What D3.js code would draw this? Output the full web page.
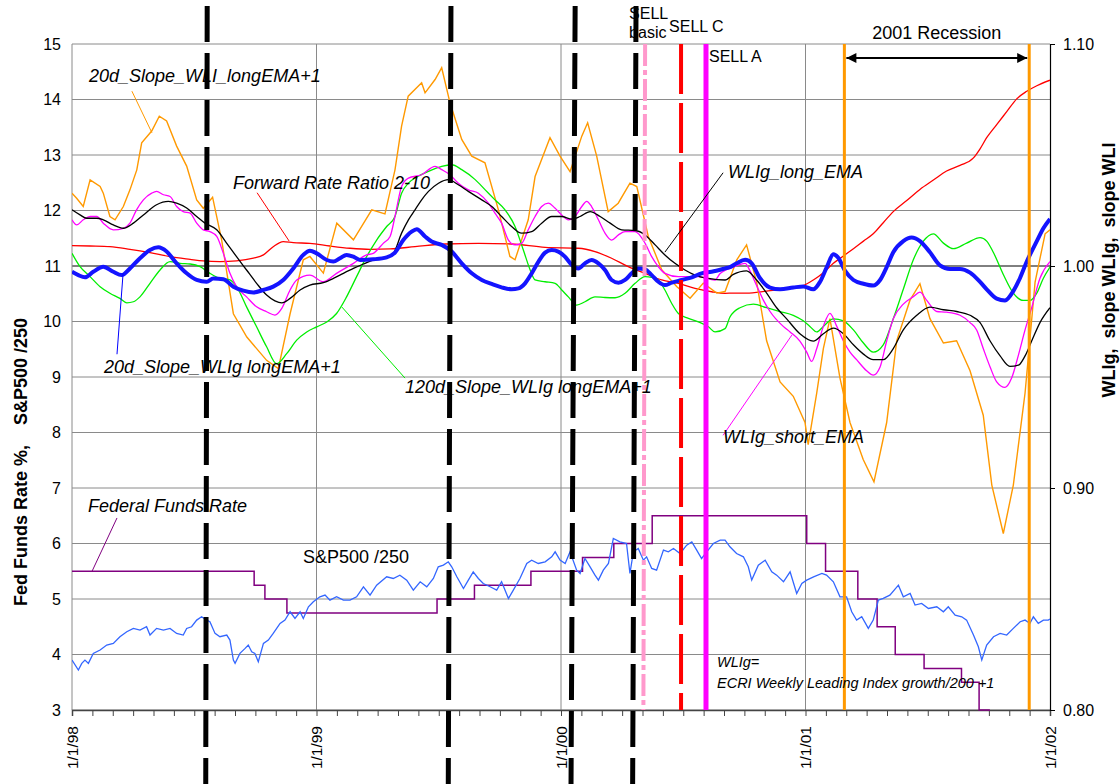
<!DOCTYPE html>
<html><head><meta charset="utf-8">
<script src="https://cdn.jsdelivr.net/npm/d3@7"></script>
<style>
html,body{margin:0;padding:0;background:#fff;}
svg{display:block;font-family:"Liberation Sans",Arial,sans-serif;}
</style></head><body>
<svg id="c" width="1120" height="784"></svg>
<script>
// ---------- DATA (x = decimal year) ----------
const yearLabels = ["1/1/98","1/1/99","1/1/00","1/1/01","1/1/02"];
const leftTicks = [3,4,5,6,7,8,9,10,11,12,13,14,15];
const rightTicks = [0.80,0.90,1.00,1.10];

// 20d_Slope_WLI_longEMA+1 (right axis)
const slopeWLI = [[1998.000,1.0328],[1998.019,1.0305],[1998.046,1.0268],[1998.074,1.0388],[1998.115,1.0358],[1998.128,1.0328],[1998.155,1.0223],[1998.176,1.0208],[1998.210,1.0268],[1998.237,1.0343],[1998.265,1.0433],[1998.285,1.0555],[1998.326,1.0608],[1998.357,1.0675],[1998.387,1.0653],[1998.428,1.0540],[1998.469,1.0450],[1998.510,1.0298],[1998.537,1.0260],[1998.575,1.0310],[1998.612,1.0118],[1998.660,0.9785],[1998.715,0.9680],[1998.796,0.9575],[1998.844,0.9538],[1998.892,0.9785],[1998.946,1.0028],[1998.973,1.0043],[1999.028,0.9968],[1999.083,1.0193],[1999.151,1.0118],[1999.226,1.0253],[1999.280,1.0235],[1999.321,1.0433],[1999.348,1.0630],[1999.375,1.0765],[1999.430,1.0825],[1999.444,1.0780],[1999.485,1.0840],[1999.512,1.0893],[1999.546,1.0735],[1999.594,1.0570],[1999.635,1.0495],[1999.689,1.0465],[1999.744,1.0253],[1999.791,1.0043],[1999.812,1.0028],[1999.866,1.0208],[1999.894,1.0403],[1999.955,1.0578],[1999.996,1.0495],[2000.037,1.0425],[2000.085,1.0585],[2000.109,1.0645],[2000.146,1.0495],[2000.193,1.0245],[2000.234,1.0283],[2000.282,1.0373],[2000.310,1.0358],[2000.357,1.0133],[2000.412,0.9983],[2000.473,0.9908],[2000.528,0.9855],[2000.582,0.9923],[2000.637,0.9878],[2000.671,0.9885],[2000.719,1.0028],[2000.759,1.0095],[2000.800,0.9928],[2000.841,0.9663],[2000.896,0.9478],[2000.950,0.9413],[2000.998,0.9295],[2001.011,0.9195],[2001.046,0.9428],[2001.073,0.9628],[2001.100,0.9763],[2001.141,0.9495],[2001.182,0.9295],[2001.236,0.9128],[2001.280,0.9028],[2001.332,0.9295],[2001.373,0.9663],[2001.427,0.9845],[2001.468,0.9920],[2001.509,0.9763],[2001.564,0.9653],[2001.618,0.9663],[2001.673,0.9528],[2001.727,0.9328],[2001.762,0.9013],[2001.809,0.8795],[2001.850,0.9013],[2001.898,0.9428],[2001.939,0.9928],[2001.980,1.0145],[2002.000,1.0163]];

// WLIg_short_EMA
const shortEMA = [[1998.000,1.0208],[1998.019,1.0185],[1998.046,1.0208],[1998.074,1.0223],[1998.101,1.0223],[1998.128,1.0193],[1998.169,1.0163],[1998.210,1.0170],[1998.237,1.0193],[1998.264,1.0253],[1998.292,1.0298],[1998.326,1.0328],[1998.346,1.0336],[1998.374,1.0321],[1998.401,1.0313],[1998.428,1.0268],[1998.455,1.0245],[1998.483,1.0238],[1998.510,1.0193],[1998.537,1.0163],[1998.564,1.0155],[1998.592,1.0133],[1998.619,1.0057],[1998.646,0.9967],[1998.673,0.9907],[1998.714,0.9861],[1998.755,0.9816],[1998.796,0.9794],[1998.830,0.9779],[1998.858,0.9809],[1998.892,0.9892],[1998.919,0.9937],[1998.973,0.9959],[1999.028,0.9929],[1999.082,0.9967],[1999.151,1.0012],[1999.205,1.0050],[1999.232,1.0057],[1999.273,1.0102],[1999.301,1.0133],[1999.321,1.0223],[1999.348,1.0358],[1999.376,1.0396],[1999.430,1.0411],[1999.485,1.0449],[1999.512,1.0434],[1999.546,1.0411],[1999.580,1.0373],[1999.621,1.0343],[1999.662,1.0328],[1999.703,1.0283],[1999.730,1.0238],[1999.757,1.0193],[1999.785,1.0117],[1999.812,1.0095],[1999.839,1.0102],[1999.866,1.0163],[1999.894,1.0223],[1999.921,1.0268],[1999.948,1.0283],[1999.975,1.0261],[2000.003,1.0230],[2000.030,1.0208],[2000.057,1.0223],[2000.085,1.0268],[2000.105,1.0291],[2000.125,1.0268],[2000.153,1.0208],[2000.180,1.0148],[2000.207,1.0117],[2000.235,1.0140],[2000.262,1.0155],[2000.303,1.0155],[2000.344,1.0102],[2000.371,1.0042],[2000.398,0.9997],[2000.425,0.9967],[2000.480,0.9952],[2000.562,0.9952],[2000.630,0.9937],[2000.650,0.9965],[2000.705,0.9995],[2000.753,1.0012],[2000.773,0.9978],[2000.800,0.9912],[2000.828,0.9845],[2000.855,0.9795],[2000.909,0.9728],[2000.937,0.9703],[2000.977,0.9662],[2001.005,0.9612],[2001.025,0.9570],[2001.046,0.9628],[2001.073,0.9728],[2001.100,0.9787],[2001.128,0.9728],[2001.155,0.9662],[2001.182,0.9612],[2001.209,0.9578],[2001.250,0.9528],[2001.277,0.9508],[2001.305,0.9545],[2001.332,0.9662],[2001.359,0.9762],[2001.400,0.9828],[2001.441,0.9862],[2001.468,0.9882],[2001.496,0.9845],[2001.537,0.9795],[2001.577,0.9792],[2001.632,0.9778],[2001.673,0.9745],[2001.700,0.9712],[2001.727,0.9628],[2001.755,0.9545],[2001.782,0.9478],[2001.816,0.9453],[2001.843,0.9495],[2001.870,0.9595],[2001.898,0.9712],[2001.925,0.9812],[2001.959,0.9945],[2002.000,1.0020]];

// WLIg_long_EMA
const longEMA = [[1998.000,1.0253],[1998.033,1.0230],[1998.060,1.0215],[1998.101,1.0215],[1998.128,1.0208],[1998.169,1.0185],[1998.210,1.0170],[1998.251,1.0193],[1998.292,1.0230],[1998.346,1.0276],[1998.394,1.0291],[1998.428,1.0283],[1998.469,1.0261],[1998.510,1.0223],[1998.544,1.0193],[1998.592,1.0163],[1998.633,1.0102],[1998.673,1.0042],[1998.714,0.9982],[1998.755,0.9922],[1998.796,0.9869],[1998.830,0.9843],[1998.858,0.9834],[1998.892,0.9854],[1998.933,0.9892],[1998.973,0.9914],[1999.028,0.9925],[1999.069,0.9944],[1999.110,0.9967],[1999.151,0.9989],[1999.192,1.0009],[1999.232,1.0027],[1999.273,1.0035],[1999.314,1.0057],[1999.348,1.0148],[1999.376,1.0208],[1999.403,1.0253],[1999.430,1.0298],[1999.458,1.0336],[1999.499,1.0373],[1999.540,1.0389],[1999.580,1.0366],[1999.621,1.0336],[1999.676,1.0298],[1999.717,1.0268],[1999.757,1.0223],[1999.798,1.0178],[1999.839,1.0148],[1999.880,1.0155],[1999.921,1.0193],[1999.962,1.0223],[2000.003,1.0223],[2000.044,1.0211],[2000.078,1.0223],[2000.119,1.0245],[2000.160,1.0223],[2000.201,1.0193],[2000.248,1.0163],[2000.303,1.0160],[2000.344,1.0140],[2000.385,1.0095],[2000.425,1.0050],[2000.466,1.0012],[2000.507,0.9982],[2000.548,0.9959],[2000.603,0.9944],[2000.671,0.9937],[2000.705,0.9962],[2000.759,0.9978],[2000.800,0.9937],[2000.841,0.9878],[2000.882,0.9812],[2000.923,0.9762],[2000.977,0.9695],[2001.032,0.9662],[2001.073,0.9695],[2001.114,0.9720],[2001.155,0.9695],[2001.196,0.9645],[2001.237,0.9603],[2001.277,0.9578],[2001.318,0.9578],[2001.359,0.9628],[2001.400,0.9712],[2001.455,0.9778],[2001.509,0.9815],[2001.564,0.9803],[2001.618,0.9795],[2001.673,0.9778],[2001.714,0.9745],[2001.755,0.9662],[2001.796,0.9595],[2001.836,0.9548],[2001.871,0.9553],[2001.898,0.9595],[2001.925,0.9662],[2001.959,0.9745],[2002.000,0.9812]];

// 120d_Slope_WLIg longEMA+1
const slope120 = [[1998.000,1.0057],[1998.033,0.9997],[1998.074,0.9952],[1998.115,0.9907],[1998.155,0.9877],[1998.196,0.9854],[1998.224,0.9834],[1998.251,0.9839],[1998.278,0.9861],[1998.319,0.9922],[1998.360,0.9982],[1998.401,1.0020],[1998.442,1.0012],[1998.483,1.0009],[1998.524,0.9997],[1998.564,0.9967],[1998.605,0.9944],[1998.646,0.9937],[1998.673,0.9907],[1998.714,0.9816],[1998.755,0.9726],[1998.796,0.9636],[1998.837,0.9560],[1998.878,0.9605],[1998.919,0.9666],[1998.960,0.9703],[1999.001,0.9726],[1999.042,0.9748],[1999.082,0.9786],[1999.123,0.9861],[1999.164,0.9952],[1999.205,1.0042],[1999.246,1.0117],[1999.287,1.0178],[1999.321,1.0223],[1999.348,1.0328],[1999.376,1.0373],[1999.416,1.0404],[1999.458,1.0426],[1999.512,1.0449],[1999.553,1.0456],[1999.594,1.0434],[1999.649,1.0389],[1999.690,1.0343],[1999.730,1.0298],[1999.771,1.0253],[1999.812,1.0178],[1999.846,1.0072],[1999.874,0.9982],[1999.894,0.9937],[1999.935,0.9929],[1999.976,0.9922],[2000.003,0.9892],[2000.030,0.9861],[2000.064,0.9824],[2000.098,0.9839],[2000.139,0.9861],[2000.180,0.9858],[2000.221,0.9857],[2000.262,0.9877],[2000.303,0.9922],[2000.344,0.9952],[2000.371,0.9949],[2000.398,0.9937],[2000.425,0.9892],[2000.453,0.9831],[2000.480,0.9786],[2000.521,0.9764],[2000.562,0.9748],[2000.603,0.9726],[2000.630,0.9703],[2000.671,0.9718],[2000.691,0.9770],[2000.732,0.9812],[2000.787,0.9828],[2000.841,0.9812],[2000.896,0.9795],[2000.950,0.9778],[2000.991,0.9753],[2001.018,0.9728],[2001.046,0.9703],[2001.073,0.9728],[2001.114,0.9762],[2001.155,0.9753],[2001.196,0.9712],[2001.237,0.9653],[2001.277,0.9612],[2001.318,0.9645],[2001.359,0.9762],[2001.400,0.9895],[2001.441,1.0028],[2001.482,1.0112],[2001.523,1.0145],[2001.564,1.0103],[2001.605,1.0078],[2001.659,1.0103],[2001.714,1.0128],[2001.741,1.0112],[2001.768,1.0062],[2001.809,0.9962],[2001.850,0.9878],[2001.891,0.9845],[2001.918,0.9845],[2001.946,0.9878],[2001.973,0.9945],[2002.000,0.9995]];

// 20d_Slope_WLIg longEMA+1
const slope20g = [[1998.000,0.9974],[1998.026,0.9959],[1998.053,0.9949],[1998.087,0.9974],[1998.128,0.9997],[1998.169,0.9974],[1998.203,0.9959],[1998.237,0.9989],[1998.278,1.0035],[1998.319,1.0072],[1998.353,1.0084],[1998.387,1.0065],[1998.428,1.0012],[1998.469,0.9967],[1998.510,0.9937],[1998.551,0.9929],[1998.578,0.9944],[1998.619,0.9940],[1998.660,0.9907],[1998.701,0.9889],[1998.742,0.9881],[1998.783,0.9892],[1998.823,0.9907],[1998.864,0.9937],[1998.905,0.9989],[1998.946,1.0050],[1998.973,1.0069],[1999.001,1.0057],[1999.042,1.0027],[1999.069,1.0020],[1999.096,1.0035],[1999.123,1.0050],[1999.151,1.0042],[1999.178,1.0027],[1999.232,1.0030],[1999.287,1.0039],[1999.321,1.0060],[1999.355,1.0117],[1999.389,1.0155],[1999.410,1.0166],[1999.444,1.0133],[1999.471,1.0110],[1999.512,1.0095],[1999.553,1.0065],[1999.594,1.0012],[1999.635,0.9967],[1999.676,0.9937],[1999.717,0.9919],[1999.757,0.9904],[1999.798,0.9895],[1999.826,0.9899],[1999.853,0.9922],[1999.880,0.9967],[1999.908,1.0020],[1999.935,1.0060],[1999.962,1.0072],[1999.989,1.0065],[2000.016,1.0042],[2000.044,1.0005],[2000.071,0.9989],[2000.098,1.0012],[2000.125,1.0027],[2000.153,1.0012],[2000.180,0.9982],[2000.207,0.9937],[2000.235,0.9925],[2000.262,0.9937],[2000.289,0.9967],[2000.316,0.9989],[2000.344,0.9985],[2000.371,0.9959],[2000.398,0.9929],[2000.425,0.9914],[2000.453,0.9925],[2000.494,0.9937],[2000.535,0.9949],[2000.575,0.9967],[2000.616,0.9974],[2000.671,0.9989],[2000.691,0.9995],[2000.718,1.0012],[2000.753,1.0028],[2000.780,1.0012],[2000.814,0.9945],[2000.855,0.9903],[2000.896,0.9895],[2000.950,0.9903],[2000.991,0.9908],[2001.032,0.9895],[2001.059,0.9928],[2001.087,0.9995],[2001.114,1.0053],[2001.134,1.0037],[2001.162,0.9978],[2001.196,0.9937],[2001.237,0.9920],[2001.277,0.9912],[2001.305,0.9937],[2001.332,0.9995],[2001.359,1.0062],[2001.400,1.0112],[2001.434,1.0128],[2001.468,1.0112],[2001.509,1.0062],[2001.550,1.0003],[2001.591,0.9987],[2001.632,0.9987],[2001.673,0.9970],[2001.714,0.9928],[2001.741,0.9895],[2001.782,0.9853],[2001.816,0.9845],[2001.850,0.9887],[2001.877,0.9945],[2001.905,1.0020],[2001.946,1.0112],[2001.973,1.0170],[2002.000,1.0212]];

// Forward Rate Ratio 2-10
const fwdRatio = [[1998.000,1.0092],[1998.074,1.0090],[1998.155,1.0087],[1998.237,1.0075],[1998.319,1.0060],[1998.401,1.0042],[1998.483,1.0030],[1998.537,1.0023],[1998.605,1.0020],[1998.673,1.0023],[1998.742,1.0035],[1998.783,1.0050],[1998.823,1.0087],[1998.864,1.0110],[1998.905,1.0105],[1998.973,1.0102],[1999.055,1.0090],[1999.137,1.0080],[1999.219,1.0075],[1999.301,1.0077],[1999.403,1.0087],[1999.526,1.0099],[1999.662,1.0102],[1999.798,1.0099],[1999.935,1.0084],[2000.071,1.0080],[2000.139,1.0065],[2000.207,1.0035],[2000.275,0.9997],[2000.344,0.9967],[2000.412,0.9937],[2000.480,0.9922],[2000.548,0.9899],[2000.616,0.9884],[2000.671,0.9877],[2000.705,0.9878],[2000.759,0.9878],[2000.841,0.9887],[2000.923,0.9898],[2000.991,0.9912],[2001.032,0.9937],[2001.073,0.9970],[2001.114,1.0012],[2001.155,1.0045],[2001.196,1.0078],[2001.237,1.0112],[2001.277,1.0145],[2001.318,1.0195],[2001.359,1.0245],[2001.414,1.0295],[2001.468,1.0345],[2001.523,1.0387],[2001.577,1.0428],[2001.632,1.0453],[2001.687,1.0487],[2001.714,1.0528],[2001.741,1.0578],[2001.782,1.0637],[2001.823,1.0695],[2001.864,1.0753],[2001.905,1.0787],[2001.946,1.0812],[2002.000,1.0837]];

// S&P500 /250 (left axis)
const spx = [[1998.000,3.90],[1998.026,3.72],[1998.040,3.84],[1998.053,3.90],[1998.067,3.84],[1998.087,4.02],[1998.115,4.08],[1998.142,4.17],[1998.169,4.20],[1998.196,4.32],[1998.224,4.41],[1998.251,4.47],[1998.278,4.44],[1998.305,4.50],[1998.319,4.35],[1998.346,4.47],[1998.374,4.44],[1998.401,4.47],[1998.428,4.38],[1998.455,4.35],[1998.469,4.47],[1998.489,4.50],[1998.510,4.62],[1998.530,4.68],[1998.551,4.62],[1998.564,4.59],[1998.585,4.38],[1998.605,4.32],[1998.633,4.35],[1998.646,4.26],[1998.660,3.90],[1998.667,3.84],[1998.687,4.02],[1998.708,4.11],[1998.721,4.17],[1998.735,4.05],[1998.748,4.02],[1998.762,3.87],[1998.783,4.20],[1998.803,4.26],[1998.823,4.38],[1998.851,4.56],[1998.871,4.62],[1998.892,4.77],[1998.912,4.65],[1998.933,4.77],[1998.946,4.65],[1998.967,4.86],[1998.987,4.95],[1999.014,5.04],[1999.035,5.07],[1999.055,4.98],[1999.082,5.04],[1999.110,4.98],[1999.137,4.98],[1999.164,5.04],[1999.192,5.22],[1999.219,5.07],[1999.246,5.25],[1999.287,5.40],[1999.314,5.37],[1999.341,5.43],[1999.369,5.34],[1999.396,5.16],[1999.424,5.31],[1999.451,5.22],[1999.478,5.37],[1999.498,5.58],[1999.519,5.61],[1999.539,5.67],[1999.553,5.58],[1999.574,5.40],[1999.601,5.19],[1999.621,5.34],[1999.641,5.49],[1999.662,5.37],[1999.682,5.28],[1999.710,5.22],[1999.737,5.16],[1999.757,5.31],[1999.785,5.01],[1999.805,5.16],[1999.832,5.37],[1999.860,5.64],[1999.880,5.70],[1999.907,5.64],[1999.935,5.67],[1999.962,5.76],[1999.976,5.85],[1999.996,5.70],[2000.017,5.64],[2000.037,5.85],[2000.064,5.52],[2000.078,5.46],[2000.098,5.73],[2000.119,5.58],[2000.139,5.43],[2000.153,5.34],[2000.173,5.52],[2000.194,5.64],[2000.214,6.09],[2000.241,6.03],[2000.268,6.00],[2000.282,5.46],[2000.296,5.85],[2000.316,5.91],[2000.337,5.70],[2000.350,5.76],[2000.371,5.55],[2000.391,5.52],[2000.419,5.88],[2000.439,5.85],[2000.460,5.91],[2000.487,5.82],[2000.514,5.97],[2000.535,6.03],[2000.555,5.88],[2000.575,5.73],[2000.596,5.85],[2000.623,6.00],[2000.651,6.06],[2000.671,6.06],[2000.691,5.94],[2000.718,5.82],[2000.746,5.76],[2000.766,5.58],[2000.780,5.34],[2000.807,5.61],[2000.835,5.70],[2000.862,5.49],[2000.882,5.43],[2000.910,5.31],[2000.937,5.49],[2000.964,5.10],[2000.985,5.28],[2001.005,5.34],[2001.033,5.40],[2001.067,5.46],[2001.086,5.43],[2001.114,5.31],[2001.141,5.04],[2001.168,5.04],[2001.189,4.77],[2001.209,4.62],[2001.230,4.68],[2001.257,4.47],[2001.277,4.62],[2001.298,4.98],[2001.318,5.01],[2001.345,5.07],[2001.380,5.25],[2001.400,5.04],[2001.428,5.10],[2001.448,4.89],[2001.475,4.92],[2001.503,4.83],[2001.537,4.86],[2001.564,4.77],[2001.584,4.86],[2001.612,4.71],[2001.639,4.68],[2001.659,4.62],[2001.687,4.35],[2001.707,4.14],[2001.721,3.90],[2001.741,4.17],[2001.769,4.32],[2001.796,4.38],[2001.823,4.35],[2001.850,4.47],[2001.878,4.59],[2001.898,4.62],[2001.918,4.56],[2001.932,4.68],[2001.952,4.56],[2001.973,4.62],[2001.993,4.62],[2002.000,4.64]];

// Federal Funds Rate (left axis), step changes
const fedFunds = [[1998.000,5.5],[1998.745,5.25],[1998.789,5.0],[1998.879,4.75],[1999.493,5.0],[1999.646,5.25],[1999.877,5.5],[2000.088,5.75],[2000.216,6.0],[2000.373,6.5],[2001.005,6.0],[2001.082,5.5],[2001.214,5.0],[2001.293,4.5],[2001.367,4.0],[2001.485,3.75],[2001.638,3.5],[2001.710,3.0],[2001.751,2.5],[2001.849,2.0],[2001.945,1.75],[2002.000,1.75]];

// Event markers (decimal years): [top, bottom]
const blackDashDates = [[1998.553,1998.547],[1999.550,1999.539],[2000.058,2000.041],[2000.307,2000.293]];
const sellBasicDate = [2000.344,2000.337];
const sellCDate = 2000.491;
const sellADate = 2000.593;
const recessionDates = [2001.159,2001.915];

// ---------- CHART ----------
const svg = d3.select("#c");
const L=72,R=1050,T=44,B=710;
const x = d3.scaleLinear().domain([1998,2002]).range([L,R]);
const yL = d3.scaleLinear().domain([3,15]).range([B,T]);
const yR = d3.scaleLinear().domain([0.8,1.1]).range([B,T]);

svg.append("defs").append("clipPath").attr("id","plot")
  .append("rect").attr("x",L).attr("y",T-1).attr("width",R-L).attr("height",B-T+2);

// grid
const grid = svg.append("g");
grid.selectAll("line.h").data(leftTicks).join("line")
  .attr("x1",L).attr("x2",R).attr("y1",d=>yL(d)).attr("y2",d=>yL(d))
  .attr("stroke",d=>d===11?"#000":"#8a8a8a").attr("stroke-width",1);
grid.selectAll("line.v").data([1998,1999,2000,2001]).join("line")
  .attr("x1",d=>x(d)).attr("x2",d=>x(d)).attr("y1",T).attr("y2",B)
  .attr("stroke","#8a8a8a").attr("stroke-width",1);

// bottom axis (monthly ticks)
const monthTicks = d3.range(0,49).map(i=>1998+i/12);
const xAxis = svg.append("g").attr("transform",`translate(0,${B})`)
  .call(d3.axisBottom(x).tickValues(monthTicks).tickSize(6).tickFormat(""));
xAxis.select(".domain").attr("stroke","#444").attr("stroke-width",1.5);
xAxis.selectAll(".tick line").attr("stroke","#444");
svg.append("g").selectAll("text").data(yearLabels).join("text")
  .attr("transform",(d,i)=>`translate(${x(1998+i)+5.5},726) rotate(-90)`)
  .attr("text-anchor","end").attr("font-size",15.5).text(d=>d);

// left axis
const yAxisL = svg.append("g").attr("transform",`translate(${L},0)`)
  .call(d3.axisLeft(yL).tickValues(leftTicks).tickSize(0).tickPadding(11).tickFormat(d3.format("d")));
yAxisL.select(".domain").remove();
yAxisL.selectAll("text").attr("font-size",16).attr("font-family","Liberation Sans, Arial");

// right axis
const yAxisR = svg.append("g").attr("transform",`translate(${R},0)`)
  .call(d3.axisRight(yR).tickValues(rightTicks).tickSize(5).tickPadding(8).tickFormat(d3.format(".2f")));
yAxisR.select(".domain").attr("stroke","#000").attr("stroke-width",1.2);
yAxisR.selectAll("text").attr("font-size",16).attr("font-family","Liberation Sans, Arial");

// axis titles
svg.append("text").attr("transform","translate(27,462) rotate(-90)")
  .attr("text-anchor","middle").attr("font-size",18).attr("font-weight","bold")
  .style("white-space","pre").text("Fed Funds Rate %,    S&P500 /250");
svg.append("text").attr("transform","translate(1115,270) rotate(-90)")
  .attr("text-anchor","middle").attr("font-size",18).attr("font-weight","bold")
  .style("white-space","pre").text("WLIg,  slope WLIg,  slope WLI");

// series
const plot = svg.append("g").attr("clip-path","url(#plot)");
const lineL = d3.line().x(d=>x(d[0])).y(d=>yL(d[1]));
const lineR = d3.line().x(d=>x(d[0])).y(d=>yR(d[1]));
const smoothR = d3.line().x(d=>x(d[0])).y(d=>yR(d[1])).curve(d3.curveMonotoneX);
const stepL = d3.line().x(d=>x(d[0])).y(d=>yL(d[1])).curve(d3.curveStepAfter);

plot.append("path").attr("d",stepL(fedFunds)).attr("fill","none").attr("stroke","#800080").attr("stroke-width",1.5);
plot.append("path").attr("d",lineL(spx)).attr("fill","none").attr("stroke","#3366ff").attr("stroke-width",1.3);
plot.append("path").attr("d",smoothR(fwdRatio)).attr("fill","none").attr("stroke","#ff0000").attr("stroke-width",1.3);
plot.append("path").attr("d",lineR(slopeWLI)).attr("fill","none").attr("stroke","#ff9900").attr("stroke-width",1.4);
plot.append("path").attr("d",smoothR(slope120)).attr("fill","none").attr("stroke","#00ee00").attr("stroke-width",1.3);
plot.append("path").attr("d",smoothR(shortEMA)).attr("fill","none").attr("stroke","#ff00ff").attr("stroke-width",1.3);
plot.append("path").attr("d",smoothR(longEMA)).attr("fill","none").attr("stroke","#000").attr("stroke-width",1.3);
plot.append("path").attr("d",smoothR(slope20g)).attr("fill","none").attr("stroke","#1414ff").attr("stroke-width",4);

// event markers
const mk = svg.append("g");
mk.selectAll("line.bd").data(blackDashDates).join("line")
  .attr("x1",d=>x(d[0])).attr("x2",d=>x(d[1])).attr("y1",0).attr("y2",784)
  .attr("stroke","#000").attr("stroke-width",5).attr("stroke-dasharray","36,11").attr("stroke-dashoffset",-6);
mk.append("line").attr("x1",x(sellBasicDate[0])).attr("x2",x(sellBasicDate[1])).attr("y1",T).attr("y2",B)
  .attr("stroke","#ff99cc").attr("stroke-width",4).attr("stroke-dasharray","22,4,5,4");
mk.append("line").attr("x1",x(sellCDate)).attr("x2",x(sellCDate)).attr("y1",T).attr("y2",B)
  .attr("stroke","#ff0000").attr("stroke-width",4).attr("stroke-dasharray","50,9");
mk.append("line").attr("x1",x(sellADate)).attr("x2",x(sellADate)).attr("y1",T).attr("y2",B)
  .attr("stroke","#ff00ff").attr("stroke-width",5);
mk.selectAll("line.rc").data(recessionDates).join("line")
  .attr("x1",d=>x(d)).attr("x2",d=>x(d)).attr("y1",T).attr("y2",B)
  .attr("stroke","#ff9900").attr("stroke-width",3);

// recession arrow
const defs = svg.select("defs");
defs.append("marker").attr("id","ah").attr("viewBox","0 0 10 10").attr("refX",10).attr("refY",5)
  .attr("markerWidth",14).attr("markerHeight",10).attr("markerUnits","userSpaceOnUse").attr("orient","auto-start-reverse")
  .append("path").attr("d","M0,0 L10,5 L0,10 z").attr("fill","#000");
svg.append("line").attr("x1",x(recessionDates[0])+2).attr("x2",x(recessionDates[1])-2).attr("y1",58).attr("y2",58)
  .attr("stroke","#000").attr("stroke-width",2).attr("marker-start","url(#ah)").attr("marker-end","url(#ah)");
svg.append("text").attr("x",(x(recessionDates[0])+x(recessionDates[1]))/2).attr("y",39)
  .attr("text-anchor","middle").attr("font-size",18).text("2001 Recession");

// SELL labels
svg.append("text").attr("x",x(sellBasicDate[0])-16).attr("y",19).attr("font-size",16).text("SELL");
svg.append("text").attr("x",x(sellBasicDate[0])-16).attr("y",38).attr("font-size",16).text("basic");
svg.append("text").attr("x",x(sellCDate)-12).attr("y",32).attr("font-size",16).text("SELL C");
svg.append("text").attr("x",x(sellADate)+3).attr("y",62).attr("font-size",16).text("SELL A");

// series labels + leaders
function leader(x1,y1,x2,y2,c){svg.append("line").attr("x1",x(x1)).attr("y1",yL(y1)).attr("x2",x(x2)).attr("y2",yL(y2)).attr("stroke",c).attr("stroke-width",1);}
function label(t,px,py,size,ital){svg.append("text").attr("x",px).attr("y",py).attr("font-size",size).attr("font-style",ital?"italic":"normal").text(t);}
leader(1998.245,14.15,1998.327,13.40,"#ff9900");
leader(1998.757,12.32,1998.888,11.45,"#ff0000");
leader(2000.425,11.25,2000.663,12.68,"#000");
leader(1998.184,9.41,1998.209,10.87,"#0000ff");
leader(1999.104,10.26,1999.362,8.98,"#00ee00");
leader(2000.663,7.95,2000.945,9.76,"#ff00ff");
leader(1998.082,5.50,1998.184,6.46,"#800080");
label("20d_Slope_WLI_longEMA+1",89,82,18,true);
label("Forward Rate Ratio 2-10",233,189,18,true);
label("WLIg_long_EMA",728,178,18,true);
label("20d_Slope_WLIg longEMA+1",104,373,18,true);
label("120d_Slope_WLIg longEMA+1",405,393,18,true);
label("WLIg_short_EMA",723,443,18,true);
label("Federal Funds Rate",88,512,18,true);
label("S&P500 /250",303,563,18,false);
label("WLIg=",717,667,14.5,true);
label("ECRI Weekly Leading Index growth/200 +1",717,688,14.5,true);
</script>
</body></html>
